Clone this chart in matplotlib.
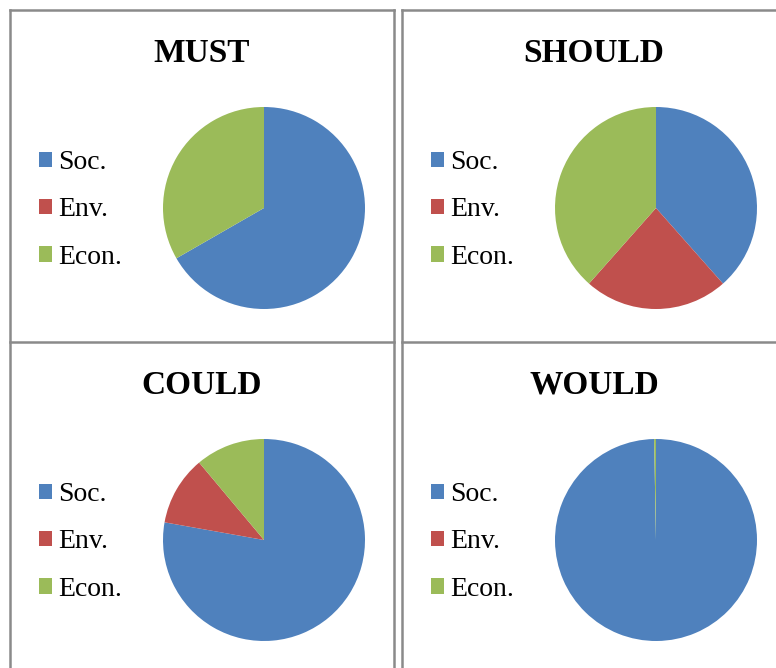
import matplotlib
matplotlib.use("Agg")
import matplotlib.pyplot as plt
from matplotlib.lines import Line2D

W, H = 776, 668

titles = ["MUST", "SHOULD", "COULD", "WOULD"]
labels = ["Soc.", "Env.", "Econ."]
colors = ["#4F81BD", "#C0504D", "#9BBB59"]

# shares (Soc, Env, Econ)
must = [66.7, 0, 33.3]
should = [38.5, 23.1, 38.5]
could = [77.8, 11.1, 11.1]
would = [99.7, 0, 0.3]
values = [must, should, could, would]

# panel layout in pixels: pie centre, title position, legend anchor
pie_centers = [(264, 208), (656, 208), (264, 540), (656, 540)]
title_pos = [(202, 53), (594, 53), (202, 385), (594, 385)]
legend_pos = [(28, 210), (420, 210), (28, 542), (420, 542)]
radius = 101

plt.rcParams['font.family'] = ['Liberation Serif', 'DejaVu Serif']

fig = plt.figure(figsize=(W / 100, H / 100), dpi=100)


def fx(x):
    return x / W


def fy(y):
    return 1 - y / H


# panel frames
gray = "#8a8a8a"
for x in [10, 394, 402]:
    fig.add_artist(Line2D([fx(x), fx(x)], [fy(10), fy(H + 5)], color=gray, lw=1.8))
for y in [10, 341.5]:
    fig.add_artist(Line2D([fx(10), fx(394)], [fy(y), fy(y)], color=gray, lw=1.8))
    fig.add_artist(Line2D([fx(402), fx(W + 5)], [fy(y), fy(y)], color=gray, lw=1.8))

for i in range(4):
    cx, cy = pie_centers[i]
    ax = fig.add_axes([fx(cx - radius), fy(cy + radius), 2 * radius / W, 2 * radius / H])
    wedges, _ = ax.pie(values[i], colors=colors, startangle=90, counterclock=False,
                       radius=1, wedgeprops=dict(linewidth=0))
    ax.set_xlim(-1, 1)
    ax.set_ylim(-1, 1)
    ax.set_aspect('equal')
    ax.axis('off')

    tx, ty = title_pos[i]
    fig.text(fx(tx), fy(ty), titles[i], ha='center', va='center',
             fontsize=24, fontweight='bold')

    lx, ly = legend_pos[i]
    fig.legend(wedges, labels, loc='center left', bbox_to_anchor=(fx(lx), fy(ly)),
               frameon=False, fontsize=20, handlelength=0.48, handleheight=0.48,
               handletextpad=0.22, labelspacing=0.8, borderaxespad=0)

plt.savefig("out.png", dpi=100)
